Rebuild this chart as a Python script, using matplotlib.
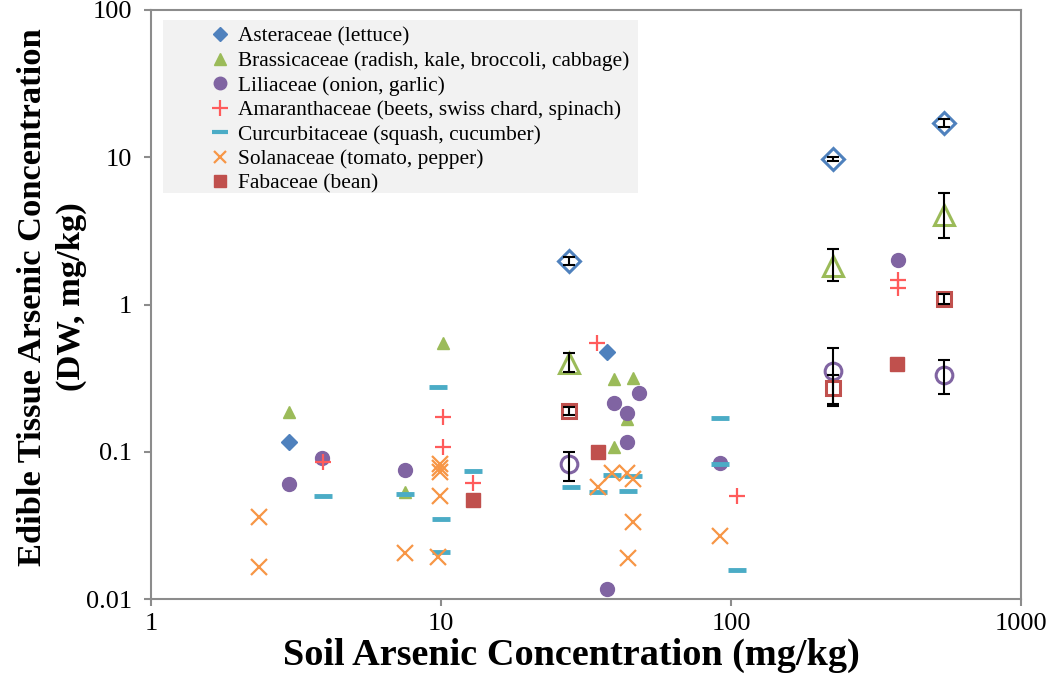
import numpy as np
import matplotlib.pyplot as plt
from matplotlib.patches import Rectangle
from matplotlib.lines import Line2D

plt.rcParams['font.family'] = ['Liberation Serif', 'DejaVu Serif']

# individual studies (filled markers)
ast_x = [3.0, 37.3]
ast_y = [0.116, 0.476]
bra_x = [3.0, 7.5, 10.2, 39.5, 45.9, 43.8, 39.5]
bra_y = [0.186, 0.053, 0.55, 0.312, 0.317, 0.167, 0.108]
lil_x = [3.0, 3.89, 7.5, 48.2, 39.5, 43.8, 43.8, 37.3, 91.6, 377]
lil_y = [0.060, 0.090, 0.075, 0.251, 0.214, 0.183, 0.116, 0.0117, 0.084, 2.0]
ama_x = [3.91, 10.2, 10.2, 12.9, 34.5, 105, 377, 377]
ama_y = [0.085, 0.172, 0.108, 0.061, 0.546, 0.050, 1.46, 1.29]
cuc_x = [3.91, 7.5, 9.77, 10.0, 10.0, 12.9, 28.1, 39.0, 34.8, 45.9, 44.0, 91.6, 91.6, 105]
cuc_y = [0.050, 0.052, 0.275, 0.035, 0.021, 0.074, 0.058, 0.070, 0.053, 0.068, 0.054, 0.169, 0.082, 0.0158]
sol_x = [2.36, 2.36, 7.5, 9.9, 9.9, 9.9, 9.9, 9.8, 39.0, 43.8, 45.9, 34.8, 45.9, 44.0, 92]
sol_y = [0.036, 0.0165, 0.0205, 0.083, 0.078, 0.073, 0.050, 0.0193, 0.072, 0.072, 0.065, 0.058, 0.0333, 0.019, 0.0269]
fab_x = [12.9, 34.8, 374]
fab_y = [0.047, 0.10, 0.394]

# means of controlled studies (open markers with error bars)
soil_m = [27.6, 225, 542]
ast_m = [1.98, 9.72, 17.1]
ast_lo = [1.86, 9.45, 16.0]
ast_hi = [2.10, 9.99, 18.2]
bra_m = [0.40, 1.82, 4.05]
bra_lo = [0.35, 1.44, 2.83]
bra_hi = [0.47, 2.38, 5.70]
lil_m = [0.083, 0.354, 0.332]
lil_lo = [0.063, 0.205, 0.247]
lil_hi = [0.100, 0.51, 0.42]
fab_m = [0.189, 0.271, 1.09]
fab_lo = [0.178, 0.21, 1.01]
fab_hi = [0.200, 0.33, 1.17]

blue = '#4F81BD'
green = '#9BBB59'
purple = '#8064A2'
pink = '#FF5B5B'
teal = '#4BACC6'
orange = '#F79646'
red = '#C0504D'

fig = plt.figure(figsize=(10.5, 6.89), dpi=100)
ax = fig.add_axes([151/1050, 90/689, 870/1050, 589/689])

ax.plot(ast_x, ast_y, 'D', color=blue, ms=8, ls='none', zorder=3)
ax.plot(bra_x, bra_y, '^', color=green, ms=9, ls='none', zorder=3)
ax.plot(lil_x, lil_y, 'o', color=purple, ms=10, ls='none', zorder=3)
ax.plot(ama_x, ama_y, '+', color=pink, ms=12, mew=1.6, ls='none', zorder=4)
ax.plot(cuc_x, cuc_y, '_', color=teal, ms=13, mew=3.5, ls='none', zorder=3)
ax.plot(sol_x, sol_y, 'x', color=orange, ms=11, mew=1.6, ls='none', zorder=4)
ax.plot(fab_x, fab_y, 's', color=red, ms=10, ls='none', zorder=3)

def mean_pts(m, lo, hi, mk, col, ms):
    yerr = [np.array(m) - np.array(lo), np.array(hi) - np.array(m)]
    ax.errorbar(soil_m, m, yerr=yerr, fmt='none', ecolor='black', elinewidth=1.5,
                capsize=4, capthick=1.5, zorder=6)
    ax.plot(soil_m, m, mk, mfc='white', mec=col, mew=2.2, ms=ms, ls='none', zorder=5)

mean_pts(ast_m, ast_lo, ast_hi, 'D', blue, 11)
mean_pts(bra_m, bra_lo, bra_hi, '^', green, 14)
mean_pts(lil_m, lil_lo, lil_hi, 'o', purple, 12)
mean_pts(fab_m, fab_lo, fab_hi, 's', red, 10)

ax.set_xscale('log')
ax.set_yscale('log')
ax.set_xlim(1, 1000)
ax.set_ylim(0.01, 100)
ax.set_xticks([1, 10, 100, 1000])
ax.set_xticklabels(['1', '10', '100', '1000'])
ax.set_yticks([0.01, 0.1, 1, 10, 100])
ax.set_yticklabels(['0.01', '0.1', '1', '10', '100'])
ax.minorticks_off()
for s in ax.spines.values():
    s.set_color('#8c8c8c')
    s.set_linewidth(1.5)
ax.tick_params(direction='out', length=5, width=1.5, color='#8c8c8c',
               labelsize=19)
ax.tick_params(axis='y', pad=8.5)
ax.tick_params(axis='x', pad=5)

# axis titles placed by hand
fig.text(571/1050, 1 - 655/689, 'Soil Arsenic Concentration (mg/kg)', fontsize=27.5,
         fontweight='bold', ha='center', va='center')
fig.text(52/1050, 1 - 297/689, 'Edible Tissue Arsenic Concentration\n(DW, mg/kg)',
         fontsize=24.8, fontweight='bold', ha='center', va='center', rotation=90,
         multialignment='center', linespacing=1.3)

# legend background
ax.add_patch(Rectangle((12/870, 406/589), 475/870, 173/589, transform=ax.transAxes,
                       facecolor='#f2f2f2', edgecolor='none', zorder=1))

handles = [
    Line2D([], [], marker='D', color=blue, ls='none', ms=7),
    Line2D([], [], marker='^', color=green, ls='none', ms=8),
    Line2D([], [], marker='o', color=purple, ls='none', ms=9),
    Line2D([], [], marker='+', color=pink, ls='none', ms=11, mew=1.6),
    Line2D([], [], marker='_', color=teal, ls='none', ms=11, mew=3),
    Line2D([], [], marker='x', color=orange, ls='none', ms=9, mew=1.6),
    Line2D([], [], marker='s', color=red, ls='none', ms=8),
]
labels = ['Asteraceae (lettuce)',
          'Brassicaceae (radish, kale, broccoli, cabbage)',
          'Liliaceae (onion, garlic)',
          'Amaranthaceae (beets, swiss chard, spinach)',
          'Curcurbitaceae (squash, cucumber)',
          'Solanaceae (tomato, pepper)',
          'Fabaceae (bean)']
ax.legend(handles, labels, loc='upper left', bbox_to_anchor=(58/870, 1 - 17/589),
          frameon=False, fontsize=15.4, handlelength=1.0, handletextpad=0.35,
          labelspacing=0.21, borderpad=0, borderaxespad=0)

fig.savefig('out.png', dpi=100)
